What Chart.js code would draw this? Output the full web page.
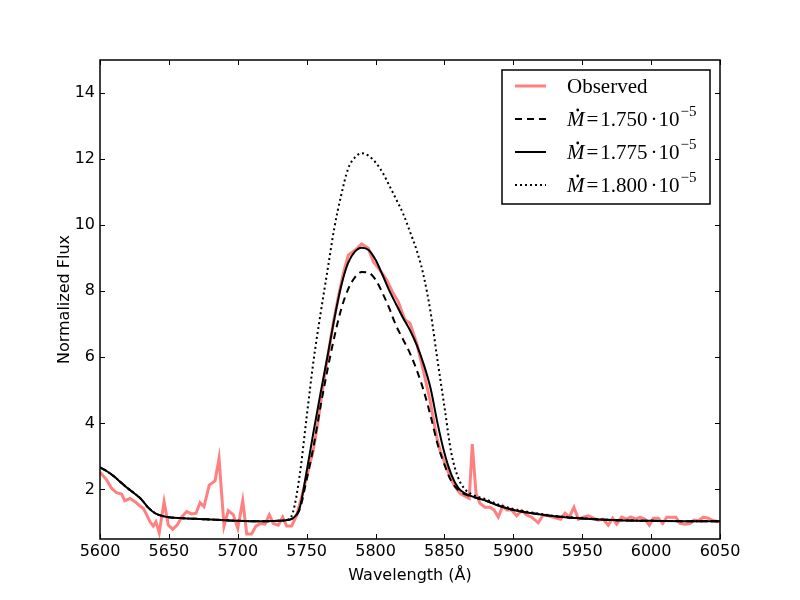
<!DOCTYPE html>
<html lang="en">
<head>
<meta charset="UTF-8">
<title>Normalized flux vs wavelength</title>
<script src="https://cdn.jsdelivr.net/npm/chart.js"></script>
<style>
  html, body { margin: 0; padding: 0; background: #fff; }
</style>
</head>
<body>
<canvas id="fluxChart" width="800" height="600"></canvas>
<script>
// axis ticks
const xTicks = [5600, 5650, 5700, 5750, 5800, 5850, 5900, 5950, 6000, 6050];
const yTicks = [2, 4, 6, 8, 10, 12, 14];

// observed spectrum
const obsWave = [5600, 5604.8, 5608.5, 5612, 5615.7, 5618, 5621.8, 5625.4, 5629, 5631.4,
  5633.9, 5636.3, 5638.7, 5640.6, 5643, 5646.5, 5649.6, 5652.7, 5656, 5659.3,
  5662.9, 5666.5, 5669.7, 5672.6, 5675.5, 5679.3, 5683.5, 5686.4, 5690, 5693.1,
  5696.8, 5700, 5703.6, 5706.5, 5710, 5713.2, 5716.6, 5719.8, 5722.9, 5725.8,
  5729.4, 5732.6, 5735.5, 5739.1, 5742.8, 5746.4, 5750, 5754.8, 5758.4, 5762.1,
  5765.7, 5769.3, 5773, 5776.6, 5780.2, 5785.1, 5789.9, 5794.7, 5798.4, 5803.2,
  5808.1, 5812.9, 5816.5, 5821.4, 5825, 5829.9, 5834.6, 5839.5, 5844.3, 5847,
  5850.4, 5854, 5857.7, 5861.3, 5864.9, 5868, 5870.2, 5872.9, 5875.8, 5879.4,
  5883.1, 5886, 5889.1, 5892.3, 5895.2, 5898.7, 5902.4, 5906, 5909.7, 5913.3,
  5918.1, 5921.7, 5925.4, 5929, 5934.4, 5937.5, 5940.6, 5944, 5947.2, 5950.8,
  5954.4, 5958.1, 5961.7, 5965.3, 5968.9, 5972.1, 5975, 5978.6, 5982.2, 5985.1,
  5989, 5991.9, 5995.6, 5998.7, 6001.6, 6005.2, 6008.4, 6011.3, 6014.9, 6018,
  6021, 6024.6, 6028.2, 6031.1, 6034.3, 6037.9, 6041.5, 6045.2, 6050];
const obsFlux = [2.52, 2.29, 2.03, 1.90, 1.86, 1.66, 1.73, 1.63, 1.50, 1.43,
  1.23, 1.02, 0.89, 1.02, 0.69, 1.63, 0.92, 0.79, 0.92, 1.17,
  1.33, 1.26, 1.28, 1.60, 1.48, 2.13, 2.26, 2.94, 0.89, 1.36,
  1.23, 0.82, 1.66, 0.65, 0.65, 0.89, 0.97, 0.95, 1.23, 0.97,
  0.92, 1.16, 0.89, 0.89, 1.22, 1.78, 2.38, 3.19, 4.10, 5.21,
  6.12, 7.03, 7.83, 8.54, 9.09, 9.24, 9.43, 9.30, 8.89, 8.64,
  8.34, 7.93, 7.68, 7.13, 7.03, 6.42, 5.61, 4.71, 3.60, 3.15,
  2.79, 2.38, 2.08, 1.88, 1.80, 1.73, 3.37, 1.88, 1.58, 1.46,
  1.46, 1.38, 1.16, 1.50, 1.38, 1.38, 1.20, 1.36, 1.23, 1.16,
  0.99, 1.23, 1.20, 1.16, 1.10, 1.28, 1.16, 1.46, 1.10, 1.16,
  1.20, 1.13, 1.07, 1.10, 0.92, 1.13, 0.95, 1.16, 1.10, 1.17,
  1.10, 1.16, 1.10, 0.92, 1.13, 1.13, 0.97, 1.16, 1.16, 1.16,
  0.97, 0.95, 0.97, 1.07, 1.05, 1.16, 1.13, 1.05, 1.02];

// model spectra on a common wavelength grid
const modelWave = [5600, 5605, 5610, 5615, 5620, 5625, 5630, 5635, 5640, 5645,
  5650, 5660, 5670, 5680, 5690, 5700, 5710, 5720, 5730, 5735,
  5740, 5745, 5750, 5755, 5760, 5765, 5770, 5775, 5780, 5785,
  5790, 5795, 5800, 5805, 5810, 5815, 5820, 5825, 5830, 5835,
  5840, 5845, 5850, 5855, 5860, 5865, 5870, 5880, 5890, 5900,
  5915, 5930, 5950, 5975, 6000, 6025, 6050];
const flux1750 = [2.67, 2.55, 2.40, 2.22, 2.04, 1.88, 1.70, 1.45, 1.28, 1.20,
  1.16, 1.13, 1.11, 1.09, 1.07, 1.05, 1.04, 1.04, 1.05, 1.07,
  1.13, 1.40, 2.30, 3.30, 4.50, 5.60, 6.60, 7.45, 8.05, 8.42,
  8.58, 8.56, 8.35, 7.95, 7.48, 6.95, 6.54, 6.12, 5.60, 4.98,
  4.22, 3.38, 2.75, 2.25, 1.98, 1.85, 1.78, 1.66, 1.50, 1.38,
  1.27, 1.19, 1.12, 1.07, 1.05, 1.04, 1.04];
const flux1775 = [2.67, 2.55, 2.40, 2.22, 2.04, 1.88, 1.70, 1.45, 1.28, 1.20,
  1.16, 1.13, 1.11, 1.09, 1.07, 1.05, 1.04, 1.04, 1.05, 1.07,
  1.13, 1.45, 2.55, 3.75, 4.90, 6.00, 7.15, 8.15, 8.85, 9.20,
  9.32, 9.25, 8.95, 8.50, 8.02, 7.60, 7.19, 6.82, 6.36, 5.78,
  5.05, 4.00, 3.10, 2.45, 2.05, 1.88, 1.79, 1.66, 1.50, 1.38,
  1.27, 1.19, 1.12, 1.07, 1.05, 1.04, 1.04];
const flux1800 = [2.67, 2.55, 2.40, 2.22, 2.04, 1.88, 1.70, 1.45, 1.28, 1.20,
  1.16, 1.13, 1.11, 1.09, 1.07, 1.05, 1.04, 1.04, 1.05, 1.07,
  1.30, 2.45, 4.20, 5.90, 7.30, 8.60, 9.90, 10.90, 11.70, 12.05,
  12.18, 12.10, 11.90, 11.60, 11.20, 10.78, 10.35, 9.80, 9.22, 8.45,
  7.35, 5.90, 4.50, 3.10, 2.35, 2.00, 1.85, 1.70, 1.53, 1.41,
  1.29, 1.20, 1.13, 1.07, 1.05, 1.04, 1.04];

// legend text
const obsLabel = 'Observed';
const rateLabels = ['1.750', '1.775', '1.800'];
const rateExp = '\u22125';

function pts(xs, ys) {
  return xs.map((x, i) => ({ x: x, y: ys[i] }));
}

// inward ticks on all four sides plus the frame (matplotlib style)
const frameTicks = {
  id: 'frameTicks',
  afterDraw(chart) {
    const { ctx, chartArea: a, scales } = chart;
    ctx.save();
    ctx.strokeStyle = '#000';
    ctx.lineWidth = 1;
    ctx.beginPath();
    scales.x.ticks.forEach(t => {
      const px = Math.round(scales.x.getPixelForValue(t.value)) + 0.5;
      ctx.moveTo(px, a.bottom); ctx.lineTo(px, a.bottom - 5);
      ctx.moveTo(px, a.top); ctx.lineTo(px, a.top + 5);
    });
    scales.y.ticks.forEach(t => {
      const py = Math.round(scales.y.getPixelForValue(t.value)) + 0.5;
      ctx.moveTo(a.left, py); ctx.lineTo(a.left + 5, py);
      ctx.moveTo(a.right, py); ctx.lineTo(a.right - 5, py);
    });
    ctx.stroke();
    ctx.lineWidth = 1.5;
    ctx.strokeRect(a.left, a.top, a.right - a.left, a.bottom - a.top);
    ctx.restore();
  }
};

// legend box in the upper right corner, with math-style labels
const serif = '"Liberation Serif", "DejaVu Serif", serif';
const mathLegend = {
  id: 'mathLegend',
  afterDraw(chart) {
    const { ctx, chartArea: a } = chart;
    const w = 208, h = 134;
    const x0 = a.right - 10 - w, y0 = a.top + 10;
    ctx.save();
    ctx.fillStyle = '#fff';
    ctx.fillRect(x0, y0, w, h);
    ctx.strokeStyle = '#000';
    ctx.lineWidth = 1.5;
    ctx.strokeRect(x0, y0, w, h);

    chart.data.datasets.forEach((ds, i) => {
      const yy = y0 + 16 + i * 33;
      ctx.beginPath();
      ctx.strokeStyle = ds.borderColor;
      ctx.lineWidth = ds.borderWidth;
      ctx.setLineDash(ds.borderDash || []);
      ctx.moveTo(x0 + 13, yy);
      ctx.lineTo(x0 + 44, yy);
      ctx.stroke();
      ctx.setLineDash([]);

      let tx = x0 + 65;
      const ty = yy + 1;
      ctx.fillStyle = '#000';
      ctx.textBaseline = 'middle';
      ctx.textAlign = 'left';
      if (ds.rate === undefined) {
        ctx.font = '21px ' + serif;
        ctx.fillText(ds.label, tx, ty);
        return;
      }
      ctx.font = 'italic 21px ' + serif;
      ctx.fillText('M', tx, ty);
      const mw = ctx.measureText('M').width;
      ctx.beginPath();
      ctx.arc(tx + mw / 2 + 2, ty - 10, 1.4, 0, Math.PI * 2);
      ctx.fill();
      tx += mw + 2;
      ctx.font = '21px ' + serif;
      ctx.fillText('=', tx, ty);
      tx += ctx.measureText('=').width + 2;
      ctx.fillText(ds.rate, tx, ty);
      tx += ctx.measureText(ds.rate).width + 3;
      ctx.fillText('\u00b7', tx, ty);
      tx += ctx.measureText('\u00b7').width + 1;
      ctx.fillText('10', tx, ty);
      tx += ctx.measureText('10').width + 1;
      ctx.font = '15px ' + serif;
      ctx.fillText(rateExp, tx, ty - 8);
    });
    ctx.restore();
  }
};

const tickFont = { family: 'DejaVu Sans', size: 16 };

new Chart(document.getElementById('fluxChart').getContext('2d'), {
  type: 'line',
  data: {
    datasets: [
      {
        label: obsLabel,
        data: pts(obsWave, obsFlux),
        borderColor: 'rgb(255, 128, 128)',
        borderWidth: 3,
        pointRadius: 0,
        tension: 0,
        order: 4
      },
      {
        label: 'M=' + rateLabels[0],
        rate: rateLabels[0],
        data: pts(modelWave, flux1750),
        borderColor: '#000',
        borderWidth: 2,
        borderDash: [7, 5],
        pointRadius: 0,
        cubicInterpolationMode: 'monotone',
        order: 3
      },
      {
        label: 'M=' + rateLabels[1],
        rate: rateLabels[1],
        data: pts(modelWave, flux1775),
        borderColor: '#000',
        borderWidth: 2,
        pointRadius: 0,
        cubicInterpolationMode: 'monotone',
        order: 1
      },
      {
        label: 'M=' + rateLabels[2],
        rate: rateLabels[2],
        data: pts(modelWave, flux1800),
        borderColor: '#000',
        borderWidth: 2,
        borderDash: [2, 3],
        pointRadius: 0,
        cubicInterpolationMode: 'monotone',
        order: 2
      }
    ]
  },
  options: {
    responsive: false,
    animation: false,
    layout: { padding: { left: 0, right: 80, top: 60, bottom: 0 } },
    plugins: {
      legend: { display: false },
      tooltip: { enabled: false }
    },
    scales: {
      x: {
        type: 'linear',
        min: 5600,
        max: 6050,
        afterBuildTicks: s => { s.ticks = xTicks.map(v => ({ value: v })); },
        afterFit: s => { s.height = 61; },
        grid: { display: false, drawTicks: false },
        border: { display: false },
        ticks: { padding: 3, color: '#000', font: tickFont, maxRotation: 0, callback: v => String(v) },
        title: {
          display: true,
          text: 'Wavelength (Å)',
          color: '#000',
          font: tickFont,
          padding: 15
        }
      },
      y: {
        type: 'linear',
        min: 0.5,
        max: 15,
        afterBuildTicks: s => { s.ticks = yTicks.map(v => ({ value: v })); },
        afterFit: s => { s.width = 100; },
        grid: { display: false, drawTicks: false },
        border: { display: false },
        ticks: { padding: 5, color: '#000', font: tickFont, callback: v => String(v) },
        title: {
          display: true,
          text: 'Normalized Flux',
          color: '#000',
          font: tickFont,
          padding: 55
        }
      }
    }
  },
  plugins: [frameTicks, mathLegend]
});
</script>
</body>
</html>
